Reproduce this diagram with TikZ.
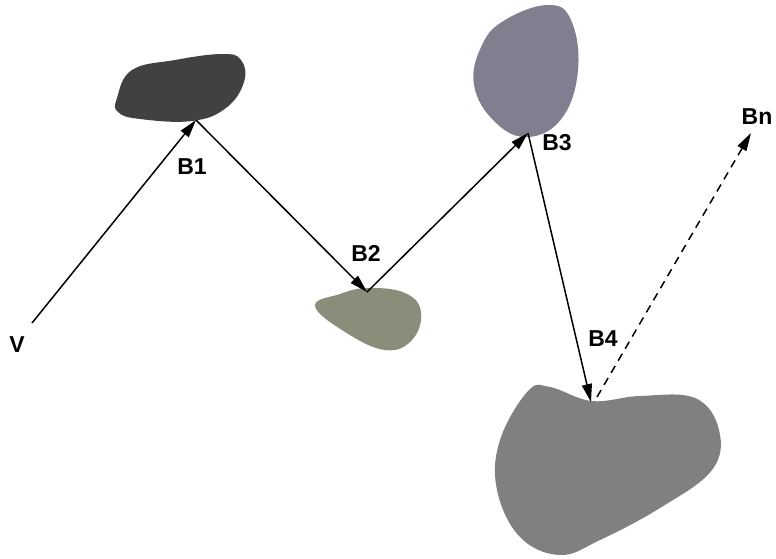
\documentclass[tikz,border=0pt]{standalone}
\usepackage{fontspec}
\setmainfont{Liberation Sans}
\usetikzlibrary{arrows.meta}
\definecolor{blobdark}{HTML}{414141}
\definecolor{blobolive}{HTML}{8C8C7B}
\definecolor{blobviolet}{HTML}{807E8F}
\definecolor{blobgray}{HTML}{808080}
\begin{document}
\begin{tikzpicture}[x=1pt,y=-1pt,
  hop/.style={line width=1.5pt,-{Triangle[length=18pt,width=10pt]}},
  guess/.style={hop,dash pattern=on 8pt off 6pt},
  lbl/.style={font=\bfseries\fontsize{23}{27}\selectfont,inner sep=0pt}]
\useasboundingbox (0,0) rectangle (776,558);

% bodies visited along the path
\fill[blobdark] plot[smooth cycle,tension=0.7] coordinates
  {(117,98) (132,70) (175,60) (222,54) (241,60) (244,82) (226,108) (192,121) (140,119) (118,112)};
\fill[blobolive] plot[smooth cycle,tension=0.7] coordinates
  {(315,306) (340,294) (368,288) (405,293) (421,312) (412,340) (385,350) (345,332)};
\fill[blobviolet] plot[smooth cycle,tension=0.7] coordinates
  {(548,5) (571,20) (578,70) (562,118) (528,137) (495,122) (474,85) (482,45) (505,20)};
\fill[blobgray] plot[smooth cycle,tension=0.65] coordinates
  {(528,391) (550,387) (592,401) (640,396) (695,398) (719,430) (712,470) (660,508) (600,540) (560,555) (520,537) (497,490) (500,440)};

% path points
\coordinate (V) at (32,323);
\coordinate (B1) at (196,120);
\coordinate (B2) at (367,292);
\coordinate (B3) at (528,133);
\coordinate (B4) at (591,402);
\coordinate (B4s) at (597,397);
\coordinate (Bn) at (751,133);

\draw[hop] (V) -- (B1);
\draw[hop] (B1) -- (B2);
\draw[hop] (B2) -- (B3);
\draw[hop] (B3) -- (B4);
\draw[guess] (B4s) -- (Bn);

% labels
\node[lbl] (lV) at (17,345) {V};
\node[lbl] (l1) at (192,167) {B1};
\node[lbl] (l2) at (366,253) {B2};
\node[lbl] (l3) at (557,143) {B3};
\node[lbl] (l4) at (603,339) {B4};
\node[lbl] (ln) at (757,117) {Bn};
\end{tikzpicture}
\end{document}
